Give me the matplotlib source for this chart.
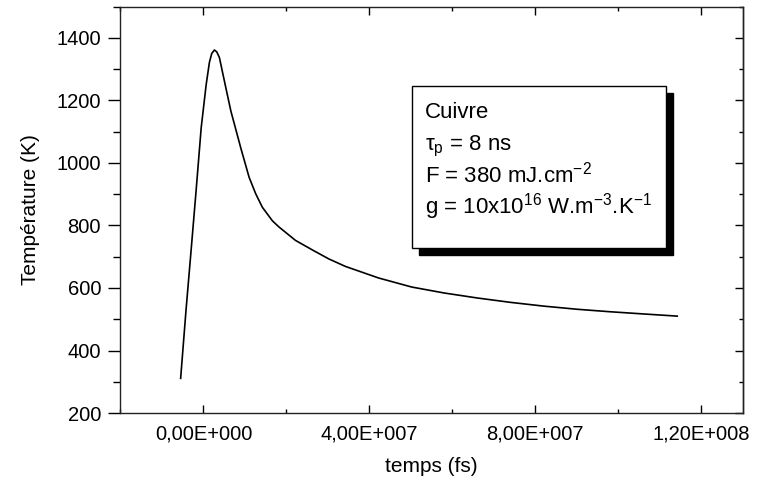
#!/usr/bin/env python3
import matplotlib
matplotlib.use("Agg")
import matplotlib.pyplot as plt
from matplotlib.patches import Rectangle
from matplotlib.ticker import MultipleLocator, FuncFormatter

# temps (fs) et température (K)
temps = [-5.5e6, -4.2e6, -2.95e6, -1.75e6, -0.55e6, 0.65e6, 1.44e6, 2.0e6, 2.64e6,
         3.2e6, 3.84e6, 5.04e6, 6.6e6, 9.05e6, 11.0e6, 12.6e6, 14.2e6, 16.6e6,
         18.2e6, 22.2e6, 26.2e6, 30.2e6, 34.2e6, 42.2e6, 50.2e6, 58e6, 66e6,
         74e6, 82e6, 90e6, 98e6, 106e6, 114.2e6]
temperature = [311, 530, 725, 915, 1112, 1250, 1322, 1350, 1361,
               1355, 1337, 1262, 1166, 1045, 954, 901, 858, 815,
               795, 752, 722, 693, 669, 632, 603, 584, 568,
               554, 542, 532, 524, 517, 510]

box_lines = ["Cuivre",
             r"τ$_{\rm p}$ = 8 ns",
             r"F = 380 mJ.cm$^{-2}$",
             r"g = 10x10$^{16}$ W.m$^{-3}$.K$^{-1}$"]

plt.rcParams["font.family"] = ["Liberation Sans", "DejaVu Sans"]
plt.rcParams["mathtext.fontset"] = "custom"
plt.rcParams["mathtext.rm"] = "Liberation Sans"
plt.rcParams["mathtext.it"] = "Liberation Sans:italic"
plt.rcParams["mathtext.bf"] = "Liberation Sans:bold"

fig = plt.figure(figsize=(7.65, 4.9), dpi=100)
ax = fig.add_axes([0.1575, 0.157, 0.8135, 0.8297])

ax.plot(temps, temperature, color="black", lw=1.2)

ax.set_xlim(-2e7, 1.3e8)
ax.set_ylim(200, 1500)

def sci_fr(v, pos):
    if v == 0:
        return "0,00E+000"
    s = "%.2E" % v
    mant, exp = s.split("E")
    return "%sE+%03d" % (mant.replace(".", ","), int(exp))

ax.xaxis.set_major_locator(MultipleLocator(4e7))
ax.xaxis.set_minor_locator(MultipleLocator(2e7))
ax.xaxis.set_major_formatter(FuncFormatter(sci_fr))
ax.yaxis.set_minor_locator(MultipleLocator(100))
ax.set_yticks([200, 400, 600, 800, 1000, 1200, 1400])

ax.tick_params(axis="x", which="both", direction="in", top=True, bottom=True,
               labelsize=14.5, pad=8, width=1.0)
ax.tick_params(axis="x", which="major", length=6)
ax.tick_params(axis="x", which="minor", length=3)
ax.tick_params(axis="y", which="both", direction="out", left=True, right=False,
               labelsize=14.5, pad=5, width=1.0)
ax.tick_params(axis="y", which="major", length=9)
ax.tick_params(axis="y", which="minor", length=5)

sec = ax.secondary_yaxis("right")
sec.yaxis.set_major_locator(MultipleLocator(200))
sec.yaxis.set_minor_locator(MultipleLocator(100))
sec.tick_params(which="both", direction="in", labelright=False, width=1.0)
sec.tick_params(which="major", length=6)
sec.tick_params(which="minor", length=3)

for sp in list(ax.spines.values()) + list(sec.spines.values()):
    sp.set_linewidth(1.0)
    sp.set_color("#222222")

ax.set_xlabel("temps (fs)", fontsize=15, labelpad=10)
ax.set_ylabel("Température (K)", fontsize=15, labelpad=12)

# encadré avec ombre
bx0, bx1, by0, by1 = 0.469, 0.877, 0.406, 0.804
dx, dy = 0.0112, 0.0172
ax.add_patch(Rectangle((bx0 + dx, by0 - dy), bx1 - bx0, by1 - by0,
                       transform=ax.transAxes, facecolor="black",
                       edgecolor="black", zorder=4))
ax.add_patch(Rectangle((bx0, by0), bx1 - bx0, by1 - by0,
                       transform=ax.transAxes, facecolor="white",
                       edgecolor="black", lw=1.0, zorder=5))
line_y = [0.726, 0.645, 0.568, 0.492]
for txt, yy in zip(box_lines, line_y):
    ax.text(0.489, yy, txt, transform=ax.transAxes, fontsize=16,
            va="baseline", ha="left", zorder=6)

fig.savefig("out.png", dpi=100)
